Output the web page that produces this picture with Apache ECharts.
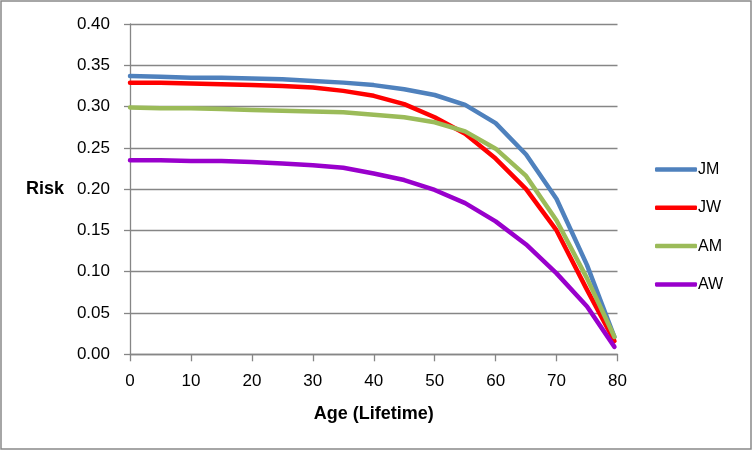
<!DOCTYPE html>
<html>
<head>
<meta charset="utf-8">
<script src="https://cdn.jsdelivr.net/npm/echarts@6/dist/echarts.min.js"></script>
<style>
html,body{margin:0;padding:0;background:#fff;}
#chart{width:753px;height:452px;}
</style>
</head>
<body>
<div id="chart"></div>
<script>
const ages = [0, 5, 10, 15, 20, 25, 30, 35, 40, 45, 50, 55, 60, 65, 70, 75, 79.5];
const JM = [0.337, 0.336, 0.335, 0.335, 0.334, 0.333, 0.331, 0.329, 0.326, 0.321, 0.314, 0.302, 0.280, 0.242, 0.188, 0.108, 0.021];
const JW = [0.329, 0.329, 0.328, 0.327, 0.326, 0.325, 0.323, 0.319, 0.313, 0.303, 0.287, 0.267, 0.237, 0.200, 0.150, 0.078, 0.016];
const AM = [0.299, 0.298, 0.298, 0.297, 0.296, 0.295, 0.294, 0.293, 0.290, 0.287, 0.281, 0.270, 0.249, 0.216, 0.162, 0.092, 0.021];
const AW = [0.235, 0.235, 0.234, 0.234, 0.233, 0.231, 0.229, 0.226, 0.219, 0.211, 0.199, 0.183, 0.161, 0.133, 0.098, 0.058, 0.009];
const seriesNames = ['JM', 'JW', 'AM', 'AW'];
const seriesValues = [JM, JW, AM, AW];
const colors = ['#4F81BD', '#FF0000', '#9BBB59', '#9900CC'];

const font = '"Liberation Sans", Arial, sans-serif';
const chart = echarts.init(document.getElementById('chart'), null, {renderer: 'canvas'});
chart.setOption({
  animation: false,
  backgroundColor: '#ffffff',
  color: colors,
  grid: {left: 130, right: 135.5, top: 24, bottom: 97.7, containLabel: false},
  legend: {
    orient: 'vertical',
    left: 655,
    top: 161.5,
    icon: 'roundRect',
    itemWidth: 42,
    itemHeight: 4.5,
    itemGap: 22.3,
    padding: 0,
    textStyle: {fontFamily: font, fontSize: 16, color: '#000', lineHeight: 14, padding: [0, 0, 0, -4]},
    data: seriesNames.map((n, i) => ({name: n, itemStyle: {color: colors[i]}}))
  },
  xAxis: {
    type: 'value',
    min: 0, max: 80, interval: 10,
    name: 'Age (Lifetime)',
    nameLocation: 'middle',
    nameGap: 51,
    nameTextStyle: {fontFamily: font, fontSize: 18, fontWeight: 'bold', color: '#000'},
    axisLine: {show: true, lineStyle: {color: '#868686', width: 1.3}},
    axisTick: {show: true, inside: false, length: 7, lineStyle: {color: '#868686', width: 1.3}},
    axisLabel: {fontFamily: font, fontSize: 17, color: '#000', margin: 19},
    splitLine: {show: false}
  },
  yAxis: {
    type: 'value',
    min: 0, max: 0.4, interval: 0.05,
    name: 'Risk',
    nameLocation: 'middle',
    nameRotate: 0,
    nameGap: 66,
    nameTextStyle: {fontFamily: font, fontSize: 18, fontWeight: 'bold', color: '#000'},
    axisLine: {show: true, lineStyle: {color: '#868686', width: 1.3}},
    axisTick: {show: true, inside: false, length: 6, lineStyle: {color: '#868686', width: 1.3}},
    axisLabel: {fontFamily: font, fontSize: 17, color: '#000', margin: 20,
      formatter: v => v.toFixed(2)},
    splitLine: {show: true, lineStyle: {color: '#868686', width: 1.3}}
  },
  series: seriesNames.map((n, i) => ({
    name: n,
    type: 'line',
    symbol: 'none',
    smooth: false,
    lineStyle: {width: 4.5, color: colors[i], cap: 'round', join: 'round'},
    itemStyle: {color: colors[i]},
    data: ages.map((a, j) => [a, seriesValues[i][j]])
  })),
  graphic: [{
    type: 'rect',
    silent: true,
    z: 100,
    shape: {x: 1, y: 1, width: 750, height: 448},
    style: {fill: 'none', stroke: '#898989', lineWidth: 1.5}
  }]
});
</script>
</body>
</html>
